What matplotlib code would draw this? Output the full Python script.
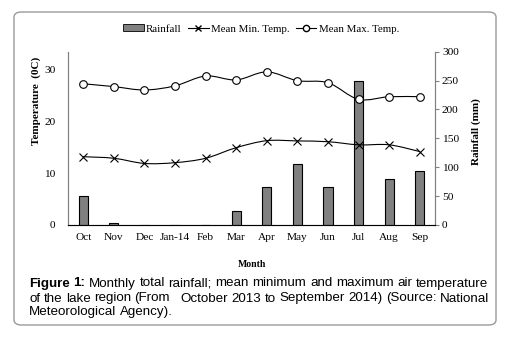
import numpy as np
import matplotlib.pyplot as plt
from matplotlib.patches import FancyBboxPatch, PathPatch, Patch
from matplotlib.path import Path
from matplotlib.lines import Line2D

months = ['Oct', 'Nov', 'Dec', 'Jan-14', 'Feb', 'Mar', 'Apr', 'May', 'Jun', 'Jul', 'Aug', 'Sep']
rainfall = [51, 3, 0, 0, 0, 24, 66, 106, 66, 250, 80, 94]
min_temp = [13.2, 12.9, 11.9, 12.05, 12.9, 14.95, 16.3, 16.25, 16.1, 15.5, 15.5, 14.2]
max_temp = [27.3, 26.75, 26.1, 26.9, 28.8, 28.05, 29.6, 27.9, 27.5, 24.3, 24.8, 24.8]

caption = [[('Figure 1:', 'bold'), ('Monthly total rainfall; mean minimum and maximum air temperature', 'normal')],
           [('of the lake region (From   October 2013 to September 2014) (Source: National', 'normal')],
           [('Meteorological Agency).', 'normal')]]

serif = 'Liberation Serif'
sans = 'Liberation Sans'


def smooth_path(x, y):
    # excel-like smoothed line, bezier through every point
    x = np.asarray(x, float)
    y = np.asarray(y, float)
    verts = [(x[0], y[0])]
    codes = [Path.MOVETO]
    n = len(x)
    for i in range(n - 1):
        x0, y0 = (x[i - 1], y[i - 1]) if i > 0 else (x[i], y[i])
        x3, y3 = (x[i + 2], y[i + 2]) if i + 2 < n else (x[i + 1], y[i + 1])
        c1 = (x[i] + (x[i + 1] - x0) / 6, y[i] + (y[i + 1] - y0) / 6)
        c2 = (x[i + 1] - (x3 - x[i]) / 6, y[i + 1] - (y3 - y[i]) / 6)
        verts += [c1, c2, (x[i + 1], y[i + 1])]
        codes += [Path.CURVE4] * 3
    return Path(verts, codes)


def justified(fig, parts, y, x0, x1, fs, stretch=True):
    # place words one by one so the line fills x0..x1 (pixels)
    r = fig.canvas.get_renderer()
    words = []
    for txt, weight in parts:
        for w in txt.split(' '):
            words.append((w, weight))
    items = []
    total = 0
    for w, weight in words:
        t = fig.text(0, y, w, fontfamily=sans, fontweight=weight, fontsize=fs, va='center')
        wd = t.get_window_extent(r).width if w else 0
        items.append((t, wd))
        total += wd
    space = fig.text(0, 0, 'a a', fontfamily=sans, fontsize=fs).get_window_extent(r).width - \
        2 * fig.text(0, 0, 'a', fontfamily=sans, fontsize=fs).get_window_extent(r).width
    for t in fig.texts[-2:]:
        t.remove()
    gaps = len(items) - 1
    gap = (x1 - x0 - total) / gaps if stretch else space
    x = x0
    for t, wd in items:
        t.set_x(x / 509)
        x += wd + gap


fig = plt.figure(figsize=(5.09, 3.42), dpi=100)
box = FancyBboxPatch((14 / 509, 17 / 342), 482 / 509, 313 / 342,
                     boxstyle='round,pad=0,rounding_size=0.015',
                     transform=fig.transFigure, facecolor='white',
                     edgecolor='#9a9a9a', linewidth=1.0, zorder=-5)
fig.patches.append(box)

ax = fig.add_axes([68 / 509, 117 / 342, 367 / 509, 173.3 / 342])
ax2 = ax.twinx()
ax2.set_zorder(1)
ax.set_zorder(2)
ax.patch.set_visible(False)
ax2.patch.set_visible(False)

X = np.arange(len(months))
ax2.bar(X, rainfall, width=0.3, color='#808080', edgecolor='black', linewidth=0.8)
ax2.set_ylim(0, 300)
ax2.set_yticks(np.arange(0, 301, 50))

for vals, mk in [(min_temp, 'x'), (max_temp, 'o')]:
    ax.add_patch(PathPatch(smooth_path(X, vals), facecolor='none', edgecolor='black', linewidth=0.8))
    ax.plot(X, vals, linestyle='none', marker=mk, markersize=6 if mk == 'x' else 5.5,
            markerfacecolor='white', markeredgecolor='black', markeredgewidth=0.8)

ax.set_xlim(-0.5, len(months) - 0.5)
ax.set_ylim(0, 33.5)
ax.set_yticks([0, 10, 20, 30])
ax.set_xticks(X)
ax.set_xticklabels(months)

for a in (ax, ax2):
    a.spines['top'].set_visible(False)
    for s in ('left', 'right', 'bottom'):
        a.spines[s].set_color('#808080')
        a.spines[s].set_linewidth(0.8)
    a.tick_params(labelsize=8.2, colors='black', width=0.8, length=3)
    for lbl in a.get_xticklabels() + a.get_yticklabels():
        lbl.set_fontfamily(serif)
ax.spines['bottom'].set_color('black')
ax.tick_params(axis='x', length=0, pad=6)
ax.tick_params(axis='y', length=0, pad=9)
ax2.tick_params(axis='y', color='#808080', pad=2)

ax.set_ylabel('Temperature  (0C)', fontfamily=serif, fontweight='bold', fontsize=8)
ax.yaxis.set_label_coords(-27 / 367, 0.716)
ax2.set_ylabel('Rainfall (mm)', fontfamily=serif, fontweight='bold', fontsize=8)
ax2.yaxis.set_label_coords(1 + 36 / 367, 0.54)
ax.set_xlabel('Month', fontfamily=serif, fontweight='bold', fontsize=7, labelpad=13)

handles = [Patch(facecolor='#808080', edgecolor='black', linewidth=0.6),
           Line2D([], [], color='black', lw=0.8, marker='x', markersize=5),
           Line2D([], [], color='black', lw=0.8, marker='o', markersize=4.5, markerfacecolor='white')]
fig.legend(handles, ['Rainfall', 'Mean Min. Temp.', 'Mean Max. Temp.'], loc='center',
           bbox_to_anchor=(261 / 509, 1 - 29 / 342), ncol=3, frameon=False,
           prop={'family': serif, 'size': 7.8}, handlelength=1.9, handletextpad=0.2,
           columnspacing=0.6, handleheight=0.6)

fs = 9.6
justified(fig, caption[0], 1 - 283.5 / 342, 29, 488, fs)
justified(fig, caption[1], 1 - 298.5 / 342, 29, 489, fs)
justified(fig, caption[2], 1 - 312.5 / 342, 29, 489, fs, stretch=False)

fig.savefig('out.png', dpi=100)
